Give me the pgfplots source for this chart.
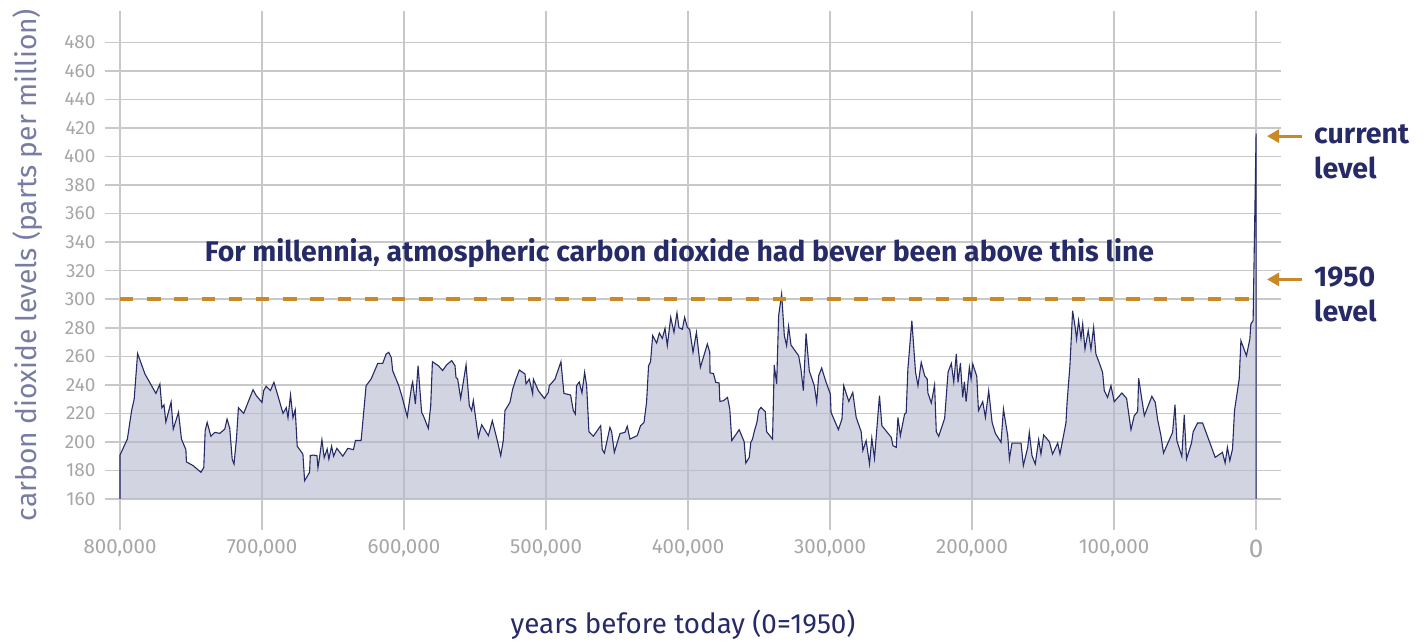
\documentclass[border=0pt]{standalone}
\usepackage{pgfplots}
\pgfplotsset{compat=1.18}
\usepackage{pgfplotstable}
\usepackage{fontspec}
\setmainfont{Fira Sans}
\usetikzlibrary{arrows.meta}
\definecolor{navy}{RGB}{38,42,102}
\definecolor{ylab}{RGB}{120,124,162}
\definecolor{fillc}{RGB}{180,184,206}
\definecolor{orange}{RGB}{201,138,38}
\definecolor{gridc}{RGB}{200,200,200}
\definecolor{tickc}{RGB}{166,166,166}
\pgfplotstableread{
year ppm
800000 160
800000 190.8
794800 202
791800 222
790000 230
787600 262
782400 247.6
774700 234
771900 240.6
770500 224
769000 226
767700 214
764000 228
762500 209
758800 220.7
756700 202
753600 194.6
753200 186
748500 183.4
743000 178.7
741000 182
740000 208
738600 213.7
736000 204
733300 206.7
729700 206
726200 209
724600 216
722700 209.5
721000 188
719700 184.5
718000 202
716600 224
712900 220
706300 236.6
704000 232.4
700000 227.7
698800 236
697000 239
694100 236
691600 241.8
688800 232.4
685200 220
682900 224
681700 217
679900 233
678200 217
676600 222.6
675200 197
671200 191.5
670000 172.8
666500 178.7
666000 190.4
664200 190.8
661300 190.4
660600 182
659500 189
657800 201.6
656200 189
654100 195
652900 188
651000 197
649600 190
647300 195.5
643100 190
639600 195.5
635600 194.6
634200 201
630200 201
626700 239.4
623200 244
618500 255
615000 255
612600 261.6
610800 262.8
608900 259
608000 250
603700 239.4
601600 232.4
597700 217.7
594600 239.4
593900 242
592000 226.6
590100 253.4
587600 220.7
586400 218.4
582900 209.5
581200 225.4
580000 256.2
575800 253.4
572800 250
570000 254
566400 257
564100 253.4
563400 245.3
562200 244
560100 230.5
556300 254
554000 225.4
552400 222
551200 229
547700 203.2
545300 212
540600 204.4
537800 214.9
534300 200.9
531900 190.4
530100 200.9
528900 222
525400 227.7
523500 237
521200 244
518800 250.4
514800 247.6
514100 240.6
511800 244
509400 233.6
508900 244
505400 235.9
501200 230.5
498400 234.7
497700 239.4
493700 244
489500 256.2
487400 234
482700 232.9
480800 222
479400 219.6
478500 239.4
476600 242
474700 234.3
472800 248.8
471400 239.4
469800 207.2
466700 204
461500 211.4
460400 194.6
458900 192.2
455000 210.2
453800 207.2
451900 192.7
447900 205.9
444400 206.7
442800 211
440900 202
435800 204.4
433400 211.4
431000 213.7
429200 227.7
427800 253.4
426400 256.2
424900 274.5
422100 269.3
420200 276.3
418100 272.6
416200 279.6
414600 267.5
412200 287.3
409900 276.8
407800 290.4
406400 280
404000 279
402400 287.3
400500 280.3
398800 278.7
396500 262.8
394100 276.8
391300 252.3
386400 268.6
384700 262.8
384500 248.3
382100 248
380500 241.8
378100 241.3
377600 228.4
375100 228.9
372200 231.2
370600 223
369200 200.9
364000 208.6
360500 200.2
359300 185.2
356900 189.2
355800 199.7
354600 202
353400 207.2
351500 213.7
350300 221.9
348700 224.2
345600 221.2
344700 207.2
340500 202
339300 253.9
337600 240.6
336200 288.5
334100 303.7
332200 274.5
330600 267.5
329200 281
327500 267.9
322100 260.4
320500 251.1
318800 235.9
316900 276.1
314600 249.7
311100 239.4
309400 227.7
308000 246.4
305900 251.8
302800 241.8
299800 233.6
299300 220.7
294100 208.6
291600 216.1
290400 239.4
286800 228.4
284000 234.7
281600 217.2
278100 207.2
276900 193.9
274600 200.9
272200 184.5
270600 202.6
268700 188.5
265200 232.4
263500 211.4
256900 203.2
255700 197.4
253400 196.2
252200 217.2
250500 204.4
247500 219.6
246400 220.3
245200 251.1
242400 285
239800 248.8
238100 239.4
235800 255.8
233400 246.4
231600 244.1
231100 234.3
228700 227.3
226400 239.9
225200 207.2
223500 203.9
219300 216.6
216900 249
214600 255
212900 242
211100 261.6
209900 241.8
208200 255.3
206600 231.2
205400 242.2
204200 228.2
201900 252.3
200700 244.1
199500 254.6
196700 246
195500 221.9
192500 228.2
190600 217.2
188300 235.9
185900 213.7
183600 206
179600 199.7
177900 223
174900 204.4
173700 188
171900 199.2
165500 199.2
163900 183.4
160800 196.2
159700 206.7
157800 190.4
155500 184.5
153100 201.6
151500 191.5
149600 204.9
145600 200.2
143300 191.5
139700 199.2
138100 191.5
133900 213.3
133100 227.7
131100 253.4
129200 292
127300 279.6
126400 272.1
125000 285
123300 272.6
122100 282.6
120500 265.1
118200 278
116300 264.9
114400 280.3
112800 261.6
110400 255.3
108100 248.8
106900 235.9
104600 231.2
102200 239.4
99900 228.2
94500 234.3
91200 230.5
88100 208.6
85800 218.4
83400 221.2
82700 244.6
78700 218.4
73400 232
71000 227.7
69400 216
67000 204.4
65200 192.2
58800 206.7
57100 226.1
55800 200.9
52300 189.9
50600 218.9
49000 188
45500 199.2
44300 207.2
41200 213.3
37700 213.3
34200 203.9
28800 189.2
23700 192.7
21800 185.2
20200 196.2
18500 186.9
16600 195.1
15200 222
11900 244.1
10700 271
6800 260.4
4400 272.1
3700 282.6
2100 285
0 416
0 160
}\codata
\begin{document}
\begin{tikzpicture}
\begin{axis}[
  at={(0,0)}, anchor=south west,
  scale only axis, width=1161pt, height=488pt,
  x dir=reverse,
  xmin=-17500, xmax=800000, ymin=160, ymax=502,
  axis line style={draw=none},
  tick pos=left,
  tick align=outside,
  major tick length=15pt,
  scaled x ticks=false,
  xtick={0,100000,200000,300000,400000,500000,600000,700000,800000},
  xticklabels={{\fontsize{26}{26}\selectfont 0},{100,000},{200,000},{300,000},{400,000},{500,000},{600,000},{700,000},{800,000}},
  ytick={160,180,...,480},
  grid=major,
  major grid style={color=gridc, line width=1.5pt},
  tick style={color=gridc, line width=1.5pt},
  /pgf/number format/assume math mode=true,
  yticklabel style={font=\fontsize{19}{19}\selectfont, text=tickc, xshift=-6pt},
  xticklabel style={font=\fontsize{20.5}{20.5}\selectfont, text=tickc, yshift=-22pt},
  xlabel={years before today (0=1950)},
  ylabel={carbon dioxide levels (parts per million)},
  xlabel style={at={(axis description cs:0.485,-0.258)}, anchor=center, font=\fontsize{27.8}{27.8}\selectfont, text=navy},
  ylabel style={at={(axis description cs:-0.0792,0.4795)}, anchor=center, font=\fontsize{28.2}{28.2}\selectfont, text=ylab},
  clip=false,
]
\addplot[fill=fillc, fill opacity=0.6, draw=none] table[x=year,y=ppm] {\codata} \closedcycle;
\addplot[navy, line width=1.1pt] table[x=year,y=ppm] {\codata};
\addplot[orange, line width=3.5pt, dash pattern=on 13.5pt off 13.7pt] coordinates {(800000,300) (0,300)};
\pgfplotsinvokeforeach{0,100000,200000,300000,400000,500000,600000,700000,800000}{
  \draw[gridc, line width=1.5pt] (axis cs:#1,160) -- ++(0pt,-31pt);
}
\node[font=\bfseries\fontsize{28.4}{28.4}\selectfont, text=navy] at (axis cs:406000,332.4) {For millennia, atmospheric carbon dioxide had bever been above this line};
\draw[orange, line width=3pt, -{Triangle[length=12pt,width=13pt]}] (axis cs:-32400,414.3) -- (axis cs:-7700,414.3);
\draw[orange, line width=3pt, -{Triangle[length=12pt,width=13pt]}] (axis cs:-32400,313.9) -- (axis cs:-7700,313.9);
\node[font=\bfseries\fontsize{28.5}{28.5}\selectfont, text=navy, anchor=base west, inner sep=0pt] at (axis cs:-40800,409.4) {current};
\node[font=\bfseries\fontsize{28.5}{28.5}\selectfont, text=navy, anchor=base west, inner sep=0pt] at (axis cs:-40800,384.7) {level};
\node[font=\bfseries\fontsize{28.5}{28.5}\selectfont, text=navy, anchor=base west, inner sep=0pt] at (axis cs:-40800,309.2) {1950};
\node[font=\bfseries\fontsize{28.5}{28.5}\selectfont, text=navy, anchor=base west, inner sep=0pt] at (axis cs:-40800,284.2) {level};
\end{axis}
\pgfresetboundingbox
\path (-120pt,-142pt) rectangle (1307pt,499pt);
\end{tikzpicture}
\end{document}
